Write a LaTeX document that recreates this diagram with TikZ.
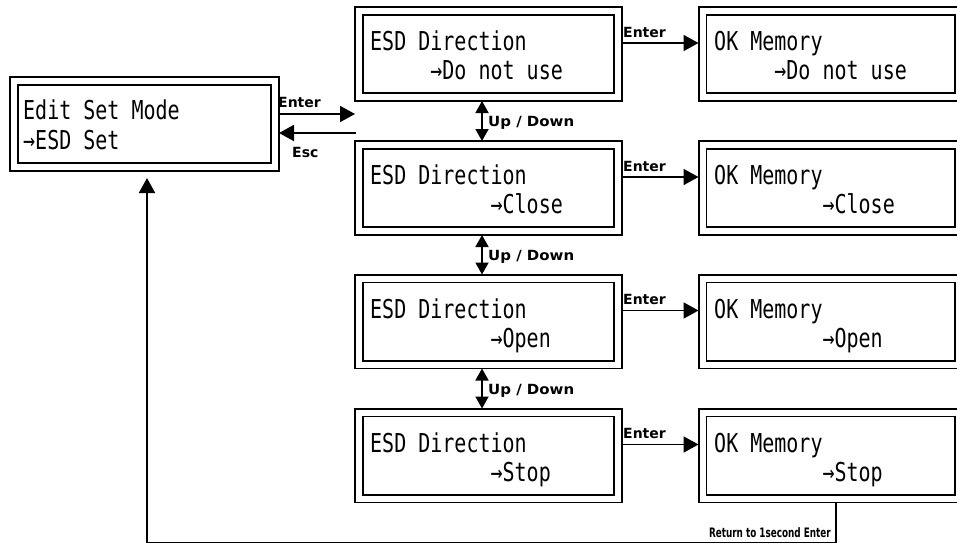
\documentclass[tikz,border=0pt]{standalone}
\usepackage{fontspec}
\usepackage{graphicx}
\usetikzlibrary{arrows.meta,calc}
\newfontfamily\lcdfont{DejaVu Sans Mono}
\newfontfamily\tagfont{DejaVu Sans Bold}
% LCD characters are tall and narrow
\newcommand\tallchars[1]{\scalebox{1}[1.3]{#1}}

\begin{document}
\begin{tikzpicture}[x=1pt,y=-1pt,
  lcd/.style={draw, line width=1.7pt, double=white, double distance=6pt,
    minimum height=86pt, inner sep=0pt, outer sep=0pt},
  lcdtxt/.style={anchor=base west, inner sep=0pt,
    font=\lcdfont\fontsize{20}{24}\selectfont},
  tag/.style={anchor=base west, inner sep=0pt,
    font=\tagfont\fontsize{14}{16}\selectfont},
  link/.style={line width=1.8pt},
  head/.style={-{Triangle[length=15pt,width=16pt]}},
  updown/.style={{Triangle[length=12pt,width=13pt]}-{Triangle[length=12pt,width=13pt]}},
]
\useasboundingbox (0,0) rectangle (957,544);
\clip (0,0) rectangle (957,544);

% main menu display
\node[lcd, minimum width=261pt] (edit) at (144.5,124) {};
\node[lcdtxt] (edit1) at (23,119.5) {\tallchars{Edit Set Mode}};
\node[lcdtxt] (edit2) at (23,149.5) {\tallchars{→ESD Set}};

% selection displays (middle) and confirmation displays (right)
\foreach \i/\y/\mc/\rc/\opt in {1/54/5/5/Do not use, 2/188/10/9/Close,
                               3/321.5/10/9/Open, 4/455.5/10/9/Stop}{
  \node[lcd, minimum width=259pt] (m\i) at (488.5,\y) {};
  \node[lcd, minimum width=256pt] (r\i) at (830.5,\y) {};
  \node[lcdtxt] (mt\i) at (370,{\y-3.5}) {\tallchars{ESD Direction}};
  \node[lcdtxt] (mb\i) at ({370+\mc*12.04},{\y+25.5}) {\tallchars{→\opt}};
  \node[lcdtxt] (rt\i) at (714,{\y-3.5}) {\tallchars{OK Memory}};
  \node[lcdtxt] (rb\i) at ({714+\rc*12.04},{\y+25.5}) {\tallchars{→\opt}};
  \draw[link, head, shorten <=4pt, shorten >=4pt]
    ($(m\i.east)+(0,-11)$) -- ($(r\i.west)+(0,-11)$);
  \node[tag] (ent\i) at ($(m\i.east)+(5,-17)$) {Enter};
}

% scrolling between options
\foreach \i/\j in {1/2, 2/3, 3/4}{
  \draw[link, updown, shorten <=4pt, shorten >=4pt]
    ($(m\i.south)+(-6.5,0)$) -- ($(m\j.north)+(-6.5,0)$);
  \node[tag] (ud\i) at ($(m\i.south)!0.5!(m\j.north)+(-0.5,5.5)$)
    {\scalebox{1.07}[1]{Up / Down}};
}

% enter / escape between menu and selection
\coordinate (gapE) at (355,114);
\coordinate (gapX) at (356,133);
\draw[link, head, shorten <=4pt] (edit.east |- gapE) -- (gapE);
\draw[link, head, shorten >=4pt] (gapX) -- (edit.east |- gapX);
\node[tag] (enterlbl) at (278,107) {Enter};
\node[tag] (esclbl) at (292,157) {Esc};

% return path
\coordinate (retR) at (836,542.5);
\coordinate (retL) at (147,542.5);
\draw[link, head, shorten <=4pt, shorten >=11pt]
  (r4.south -| retR) -- (retR) -- (retL) -- (edit.south -| retL);
\node[inner sep=0pt, anchor=base east, font=\tagfont\fontsize{13}{15}\selectfont]
  (retlbl) at (831,537) {\scalebox{0.68}[1]{Return to 1second Enter}};
\end{tikzpicture}
\end{document}
